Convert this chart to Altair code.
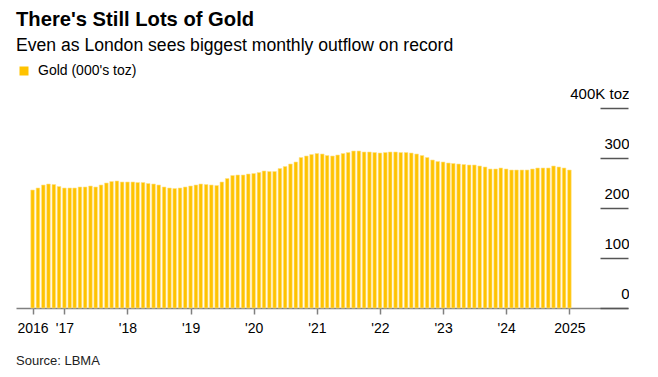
import altair as alt
import pandas as pd

TITLE = "There's Still Lots of Gold"
SUBTITLE = "Even as London sees biggest monthly outflow on record"
SOURCE = "Source: LBMA"
SERIES = "Gold (000's toz)"

# Monthly, July 2016 .. January 2025
months = pd.date_range("2016-07-01", periods=103, freq="MS").strftime("%Y-%m-%d").tolist()
gold = [
    236, 240, 246, 248, 247, 243,                                   # 2016 H2
    240, 240, 240, 242, 242, 244, 242, 246, 250, 253, 254, 252,     # 2017
    252, 252, 251, 251, 249, 248, 246, 242, 240, 239, 240, 242,     # 2018
    244, 246, 248, 247, 246, 245, 252, 259, 265, 266, 266, 268,     # 2019
    269, 271, 274, 273, 273, 279, 283, 288, 292, 301, 304, 307,     # 2020
    309, 308, 305, 304, 306, 309, 311, 314, 314, 312, 312, 311,     # 2021
    310, 311, 312, 312, 311, 311, 310, 308, 305, 301, 296, 293,     # 2022
    292, 290, 289, 288, 287, 286, 286, 284, 282, 278, 278, 280,     # 2023
    278, 276, 276, 276, 276, 278, 280, 280, 280, 284, 282, 280,     # 2024
    276,                                                            # 2025
]
y_ticks = [0, 100, 200, 300, 400]
x_tick_dates = [(2016, 7)] + [(y, 1) for y in range(2017, 2026)]

FONT = "Liberation Sans"
df = pd.DataFrame({"month": months, "gold": gold, "series": [SERIES] * len(months)})

x_scale = alt.Scale(
    type="utc",
    padding=0,
    domain=[alt.DateTime(year=2016, month=3, date=27, utc=True),
            alt.DateTime(year=2025, month=12, date=6, utc=True)],
)

bars = alt.Chart(df).mark_bar(size=3.6, stroke="#ffe28c", strokeWidth=0.6).encode(
    x=alt.X(
        "month:T",
        scale=x_scale,
        title=None,
        axis=alt.Axis(
            values=[alt.DateTime(year=y, month=m, date=1, utc=True) for y, m in x_tick_dates],
            labelExpr="(utcyear(datum.value) == 2016 || utcyear(datum.value) == 2025) ? utcFormat(datum.value, '%Y') : \"'\" + utcFormat(datum.value, '%y')",
            grid=False,
            domainColor="#808080",
            domainWidth=1.5,
            tickColor="#808080",
            tickWidth=1.5,
            tickSize=6,
            labelPadding=7,
            labelFont=FONT,
            labelFontSize=14,
            labelColor="black",
            labelFlush=False,
            labelOverlap=False,
        ),
    ),
    y=alt.Y(
        "gold:Q",
        scale=alt.Scale(domain=[0, 400], nice=False),
        title=None,
        axis=alt.Axis(
            orient="right",
            values=y_ticks,
            labelExpr="datum.value == 400 ? '400K toz' : datum.label",
            grid=False,
            domain=False,
            ticks=True,
            tickSize=28,
            offset=-28,
            tickColor="#555555",
            tickWidth=1.5,
            labelAlign="right",
            labelBaseline="alphabetic",
            labelOffset=-10,
            labelPadding=1,
            labelFont=FONT,
            labelFontSize=15,
            labelColor="black",
        ),
    ),
    color=alt.Color(
        "series:N",
        scale=alt.Scale(range=["#ffc300"]),
        legend=alt.Legend(
            title=None,
            orient="none",
            legendX=1,
            legendY=-44,
            symbolType="square",
            symbolSize=81,
            symbolStrokeWidth=0,
            labelFont=FONT,
            labelFontSize=14,
            labelColor="black",
            labelOffset=7,
        ),
    ),
)


def text_layer(txt, y, size, weight="normal", color="black"):
    return alt.Chart(pd.DataFrame({"t": [txt]})).mark_text(
        align="left", baseline="alphabetic", font=FONT, fontSize=size,
        fontWeight=weight, color=color,
    ).encode(text="t:N", x=alt.value(0), y=alt.value(y))


chart = alt.layer(
    bars,
    text_layer(TITLE, -82, 20.2, "bold"),
    text_layer(SUBTITLE, -57, 17.6),
    text_layer(SOURCE, 257, 13, color="#222222"),
).properties(
    width=612,
    height=200,
    padding={"left": 8, "top": 2, "right": 0, "bottom": 0},
).configure_view(stroke=None)

chart.save("out.html", embed_options={"renderer": "svg", "actions": False})
